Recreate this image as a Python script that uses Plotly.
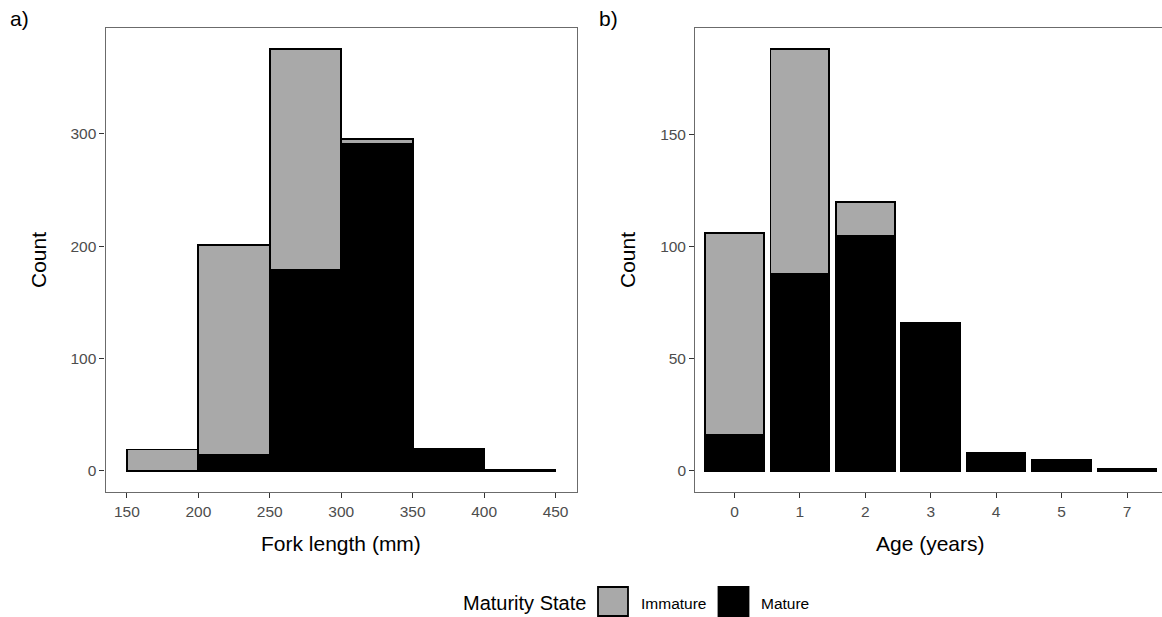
import plotly.graph_objects as go

# ---------------- data ----------------
# Panel a: fork length histogram (bin starts, mm), bin width 50
fl_bin_starts = [150, 200, 250, 300, 350, 400]
fl_bin_width = 50
fl_immature = [19, 187, 196, 4, 0, 0]
fl_mature = [0, 14, 179, 291, 20, 1]

# Panel b: age (years)
age_cats = ["0", "1", "2", "3", "4", "5", "7"]
age_immature = [90, 100, 15, 0, 0, 0, 0]
age_mature = [16, 88, 105, 66, 8, 5, 1]

fl_ticks = [150, 200, 250, 300, 350, 400, 450]
count_ticks_a = [0, 100, 200, 300]
count_ticks_b = [0, 50, 100, 150]

GREY = "#A9A9A9"
BLACK = "#000000"
W, H = 1162, 617
FONT = "Liberation Sans, Arial, sans-serif"

def px(x):
    return x / W

def py(y):
    return 1 - y / H

fl_centers = [s + fl_bin_width / 2 for s in fl_bin_starts]

fig = go.Figure()
line = dict(color="black", width=1.8)
fig.add_trace(go.Bar(x=fl_centers, y=fl_mature, width=[fl_bin_width] * len(fl_centers),
                     marker=dict(color=BLACK, line=line), name="Mature",
                     xaxis="x", yaxis="y", showlegend=False))
fig.add_trace(go.Bar(x=fl_centers, y=fl_immature, width=[fl_bin_width] * len(fl_centers),
                     marker=dict(color=GREY, line=line), name="Immature",
                     xaxis="x", yaxis="y", showlegend=False))
fig.add_trace(go.Bar(x=age_cats, y=age_mature, width=[0.9] * len(age_cats),
                     marker=dict(color=BLACK, line=line), name="Mature",
                     xaxis="x2", yaxis="y2", showlegend=False))
fig.add_trace(go.Bar(x=age_cats, y=age_immature, width=[0.9] * len(age_cats),
                     marker=dict(color=GREY, line=line), name="Immature",
                     xaxis="x2", yaxis="y2", showlegend=False))

axcol = "#6b6b6b"
tickfont = dict(family=FONT, size=15.5, color="#4D4D4D")
common = dict(showgrid=False, zeroline=False, showline=True, linecolor=axcol, linewidth=1.2,
              ticks="outside", ticklen=5, tickcolor="#333333", tickwidth=1.2, tickfont=tickfont)

ydom = [py(492), py(28.3)]
a_max = max(i + m for i, m in zip(fl_immature, fl_mature))
b_max = max(i + m for i, m in zip(age_immature, age_mature))

fig.update_layout(
    width=W, height=H, autosize=False,
    margin=dict(l=0, r=0, t=0, b=0),
    paper_bgcolor="white", plot_bgcolor="white",
    barmode="stack",
    showlegend=False,
    font=dict(family=FONT),
    xaxis=dict(domain=[px(105.5), px(577)], range=[135, 465], tickvals=fl_ticks,
               mirror=True, anchor="y", **common),
    yaxis=dict(domain=ydom, range=[-0.05 * a_max, 1.05 * a_max], tickvals=count_ticks_a,
               mirror=True, anchor="x", **common),
    xaxis2=dict(domain=[px(695.2), 1], range=[-0.6, 6.535], type="category",
                categoryorder="array", categoryarray=age_cats,
                mirror=True, anchor="y2", **common),
    yaxis2=dict(domain=ydom, range=[-0.05 * b_max, 1.05 * b_max], tickvals=count_ticks_b,
                mirror=False, anchor="x2", **common),
)

ann = []
def text(x, y, s, size, xanchor="center", angle=0, color="black"):
    ann.append(dict(x=px(x), y=py(y), xref="paper", yref="paper", text=s, showarrow=False,
                    xanchor=xanchor, yanchor="middle", textangle=angle,
                    font=dict(family=FONT, size=size, color=color)))

text(8, 18.3, "a)", 21, xanchor="left")
text(597, 18.3, "b)", 21, xanchor="left")
text(38, 260, "Count", 21, angle=-90)
text(627, 260, "Count", 21, angle=-90)
text(341.3, 543.4, "Fork length (mm)", 21)
text(930.5, 543.4, "Age (years)", 21)
text(461, 603, "Maturity State", 20, xanchor="left")
text(639, 603, "Immature", 15.5, xanchor="left")
text(759, 603, "Mature", 15.5, xanchor="left")

shapes = [
    dict(type="rect", xref="paper", yref="paper", x0=px(598), x1=px(628), y0=py(616), y1=py(587),
         fillcolor=GREY, line=dict(color="black", width=1.8)),
    dict(type="rect", xref="paper", yref="paper", x0=px(718.5), x1=px(748.5), y0=py(616), y1=py(587),
         fillcolor=BLACK, line=dict(color="black", width=1.8)),
]
fig.update_layout(annotations=ann, shapes=shapes)

fig.write_html("out.html")
